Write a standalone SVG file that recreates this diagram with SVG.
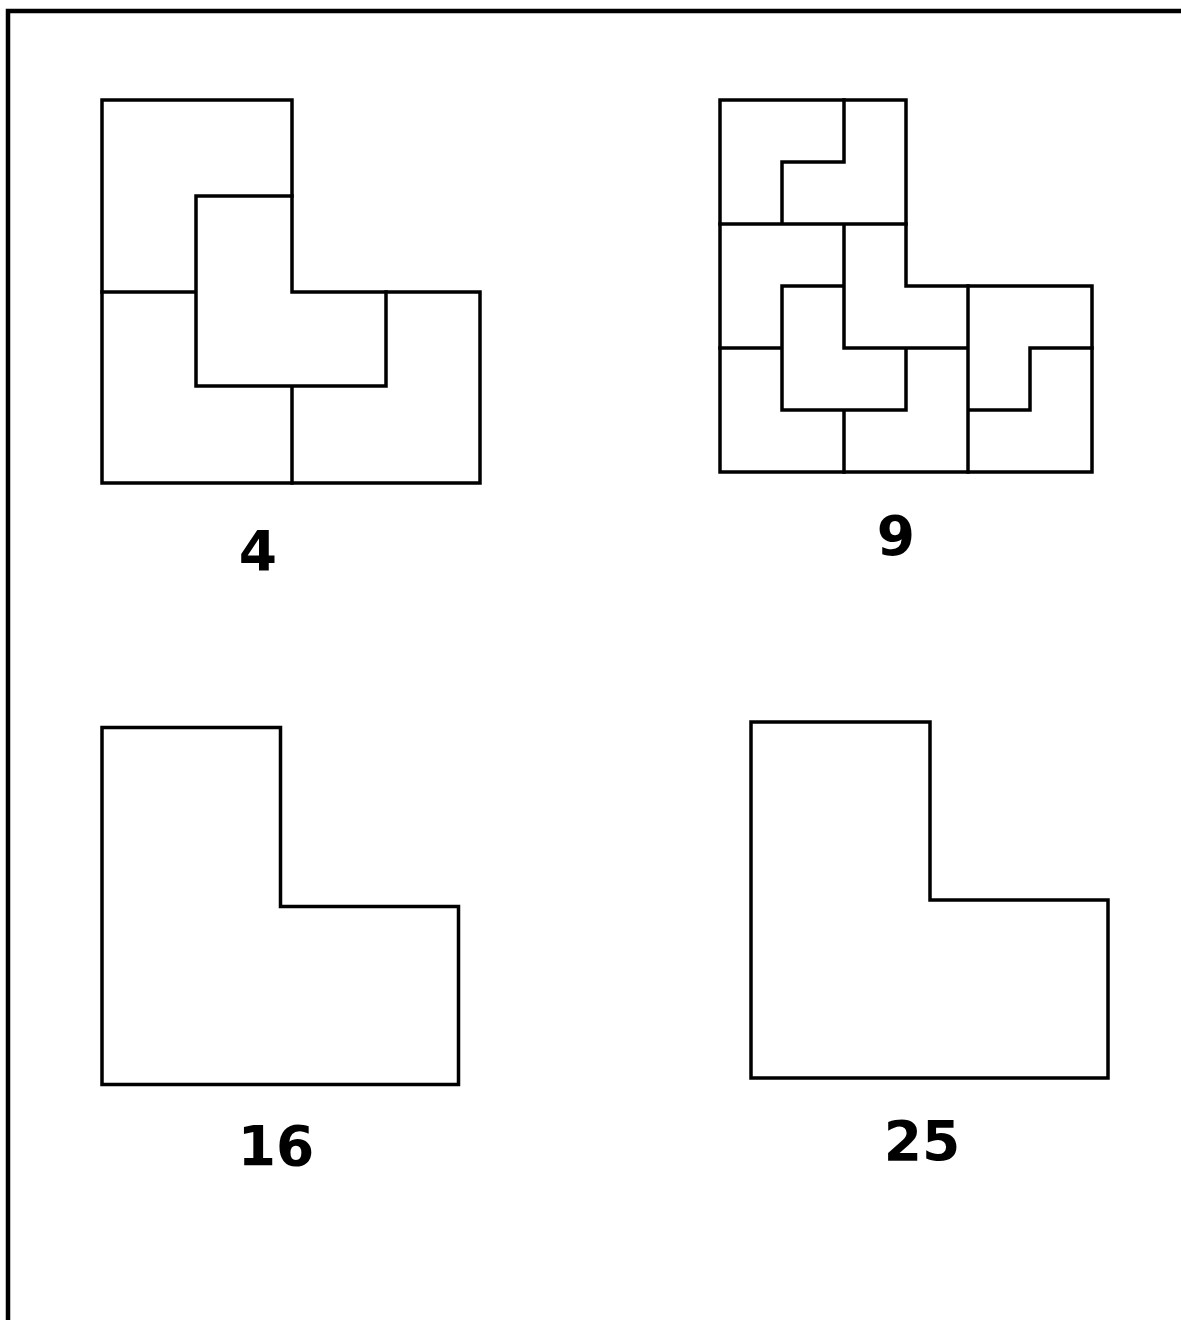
<svg xmlns="http://www.w3.org/2000/svg" width="1181" height="1320" viewBox="0 0 1181 1320">
<style>
.ln{fill:none;stroke:#000;stroke-width:3.5;stroke-linecap:square;stroke-linejoin:miter}
.lbl{font-family:"Comic Sans MS","DejaVu Sans",sans-serif;font-weight:bold;font-size:55px;fill:#000;text-anchor:middle}
</style>
<rect width="1181" height="1320" fill="#fff"/>
<path d="M8,1322 V11 H1183" fill="none" stroke="#000" stroke-width="4.5"/>
<g id="fig4">
<path class="ln" d="M102,100 H292 V292 H480 V483 H102 Z"/>
<path class="ln" d="M102,292 H196 M196,196 H292 M196,196 V386 H386 V292 M292,386 V483"/>
<text class="lbl" x="258" y="570">4</text>
</g>
<g id="fig9">
<path class="ln" d="M720,100 H906 V286 H1092 V472 H720 Z"/>
<path class="ln" d="M844,100 V162 H782 V224 M720,224 H906 M844,224 V348 H968 M968,286 V472 M782,286 H844 M782,286 V410 H906 V348 M720,348 H782 M844,410 V472 M1030,348 H1092 M1030,348 V410 H968"/>
<text class="lbl" x="896" y="555">9</text>
</g>
<g id="fig16">
<path class="ln" d="M102,727.5 H280.5 V906.5 H458.5 V1084.5 H102 Z"/>
<text class="lbl" x="276" y="1165">16</text>
</g>
<g id="fig25">
<path class="ln" d="M751,722 H930 V900 H1108 V1078 H751 Z"/>
<text class="lbl" x="922" y="1160">25</text>
</g>
</svg>
